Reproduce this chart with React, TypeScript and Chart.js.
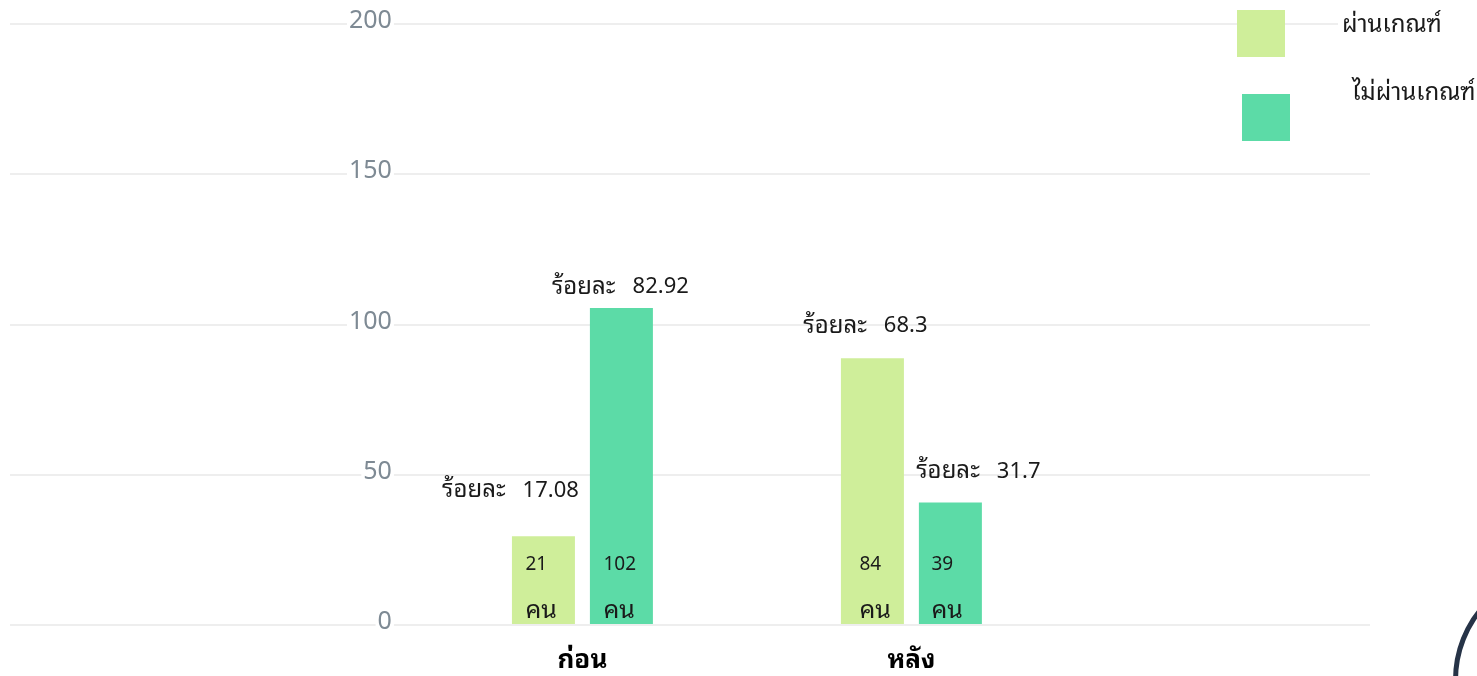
import React, { useEffect, useRef } from 'react';
import { Chart, registerables } from 'chart.js';

Chart.register(...registerables);

// ---- data ----
const categories = ['ก่อน', 'หลัง'];
const seriesNames = ['ผ่านเกณฑ์', 'ไม่ผ่านเกณฑ์'];
const passValues = [29.5, 88.8];
const failValues = [105.5, 40.8];
const passCounts = ['21', '84'];
const failCounts = ['102', '39'];
const passPercents = ['17.08', '68.3'];
const failPercents = ['82.92', '31.7'];
const percentWord = 'ร้อยละ';
const countWord = 'คน';
const yTickValues = [0, 50, 100, 150, 200];

const PASS_COLOR = '#cfee9a';
const FAIL_COLOR = '#5cdba7';
const THAI_FONT = "'Noto Sans Thai Looped', 'Noto Sans', sans-serif";

// annotation nudges (label placement relative to its bar), [dataset][category]
const pctNudge = [
  [[-33, -46], [-7, -32]],
  [[-1, -21], [28, -31]],
];
const countNudge = [
  [-18, -13],
  [-18, -19],
];
const legendSpots = [
  { bx: 1237, by: 10, tx: 1342, ty: 25 },
  { bx: 1242, by: 94, tx: 1352, ty: 93 },
];

const barLabels = {
  id: 'barLabels',
  afterDatasetsDraw(chart: any) {
    const ctx = chart.ctx;
    const percents = [passPercents, failPercents];
    const counts = [passCounts, failCounts];
    const base = chart.scales.y.getPixelForValue(0);
    ctx.save();
    ctx.fillStyle = '#1a1a1a';
    ctx.textBaseline = 'middle';
    ctx.textAlign = 'left';
    chart.data.datasets.forEach((_ds: any, di: number) => {
      const meta = chart.getDatasetMeta(di);
      meta.data.forEach((bar: any, i: number) => {
        const { x, y } = bar.getProps(['x', 'y'], true);
        const [dx, dy] = pctNudge[di][i];
        const wordFont = `24px ${THAI_FONT}`;
        const numFont = `22px ${THAI_FONT}`;
        ctx.font = wordFont;
        const w1 = ctx.measureText(percentWord).width;
        ctx.font = numFont;
        const w2 = ctx.measureText(percents[di][i]).width;
        const gap = 17;
        const start = x + dx - (w1 + gap + w2) / 2;
        ctx.font = wordFont;
        ctx.fillText(percentWord, start, y + dy);
        ctx.font = numFont;
        ctx.fillText(percents[di][i], start + w1 + gap, y + dy);
        const cx = x + countNudge[di][i];
        ctx.font = `19px ${THAI_FONT}`;
        ctx.fillText(counts[di][i], cx, base - 60);
        ctx.font = `25px ${THAI_FONT}`;
        ctx.fillText(countWord, cx, base - 14);
      });
    });
    ctx.restore();
  },
};

const customLegend = {
  id: 'customLegend',
  afterDraw(chart: any) {
    const ctx = chart.ctx;
    ctx.save();
    chart.data.datasets.forEach((ds: any, i: number) => {
      const s = legendSpots[i];
      ctx.font = `24px ${THAI_FONT}`;
      const w = ctx.measureText(ds.label).width;
      ctx.fillStyle = '#ffffff';
      ctx.fillRect(s.tx - 4, s.ty - 17, w + 8, 34);
      ctx.fillStyle = ds.backgroundColor;
      ctx.fillRect(s.bx, s.by, 48, 47);
      ctx.fillStyle = '#1a1a1a';
      ctx.textAlign = 'left';
      ctx.textBaseline = 'middle';
      ctx.fillText(ds.label, s.tx, s.ty);
    });
    ctx.restore();
  },
};

export default function App() {
  const ref = useRef<HTMLCanvasElement | null>(null);
  useEffect(() => {
    if (!ref.current) return;
    const chart = new Chart(ref.current, {
      type: 'bar',
      data: {
        datasets: [
          {
            label: seriesNames[0],
            data: passValues.map((v, i) => ({ x: i, y: v })),
            backgroundColor: PASS_COLOR,
          },
          {
            label: seriesNames[1],
            data: failValues.map((v, i) => ({ x: i, y: v })),
            backgroundColor: FAIL_COLOR,
          },
        ],
      },
      options: {
        animation: false,
        responsive: false,
        categoryPercentage: 0.474,
        barPercentage: 0.808,
        layout: { padding: { left: 10, right: 107, top: 24, bottom: 0 } },
        plugins: { legend: { display: false }, tooltip: { enabled: false } },
        scales: {
          x: {
            type: 'linear',
            offset: false,
            min: -1.74,
            max: 2.394,
            grid: { display: false, drawTicks: false, offset: false },
            border: { display: false },
            afterBuildTicks: (scale: any) => {
              scale.ticks = categories.map((_c, i) => ({ value: i }));
            },
            afterFit: (scale: any) => {
              scale.height = 51;
              scale.paddingLeft = 0;
              scale.paddingRight = 0;
            },
            ticks: {
              padding: 20,
              autoSkip: false,
              maxRotation: 0,
              color: '#000000',
              font: { family: THAI_FONT, size: 26, weight: 'bold' },
              callback: (v: any) => categories[v] ?? '',
            },
          },
          y: {
            min: 0,
            max: 200,
            afterBuildTicks: (scale: any) => {
              scale.ticks = yTickValues.map((v) => ({ value: v }));
            },
            afterFit: (scale: any) => {
              scale.width = 0;
              scale.paddingTop = 0;
              scale.paddingBottom = 0;
            },
            grid: { color: '#eeeeee', lineWidth: 2, drawTicks: false },
            border: { display: false },
            ticks: {
              mirror: true,
              crossAlign: 'far',
              padding: 339,
              labelOffset: -3,
              color: '#7e8a94',
              showLabelBackdrop: true,
              backdropColor: '#ffffff',
              backdropPadding: 2,
              font: { family: "'Noto Sans', sans-serif", size: 25 },
            },
          },
        },
      },
      plugins: [barLabels, customLegend],
    } as any);
    return () => chart.destroy();
  }, []);

  return (
    <div style={{ position: 'fixed', left: 0, top: 0, width: 1477, height: 676, overflow: 'hidden', background: '#fff' }}>
      <canvas ref={ref} width={1477} height={676} style={{ display: 'block' }} />
      <div
        style={{
          position: 'absolute',
          left: 1453,
          top: 566,
          width: 218,
          height: 218,
          border: '5px solid #263347',
          borderRadius: '50%',
        }}
      />
    </div>
  );
}
